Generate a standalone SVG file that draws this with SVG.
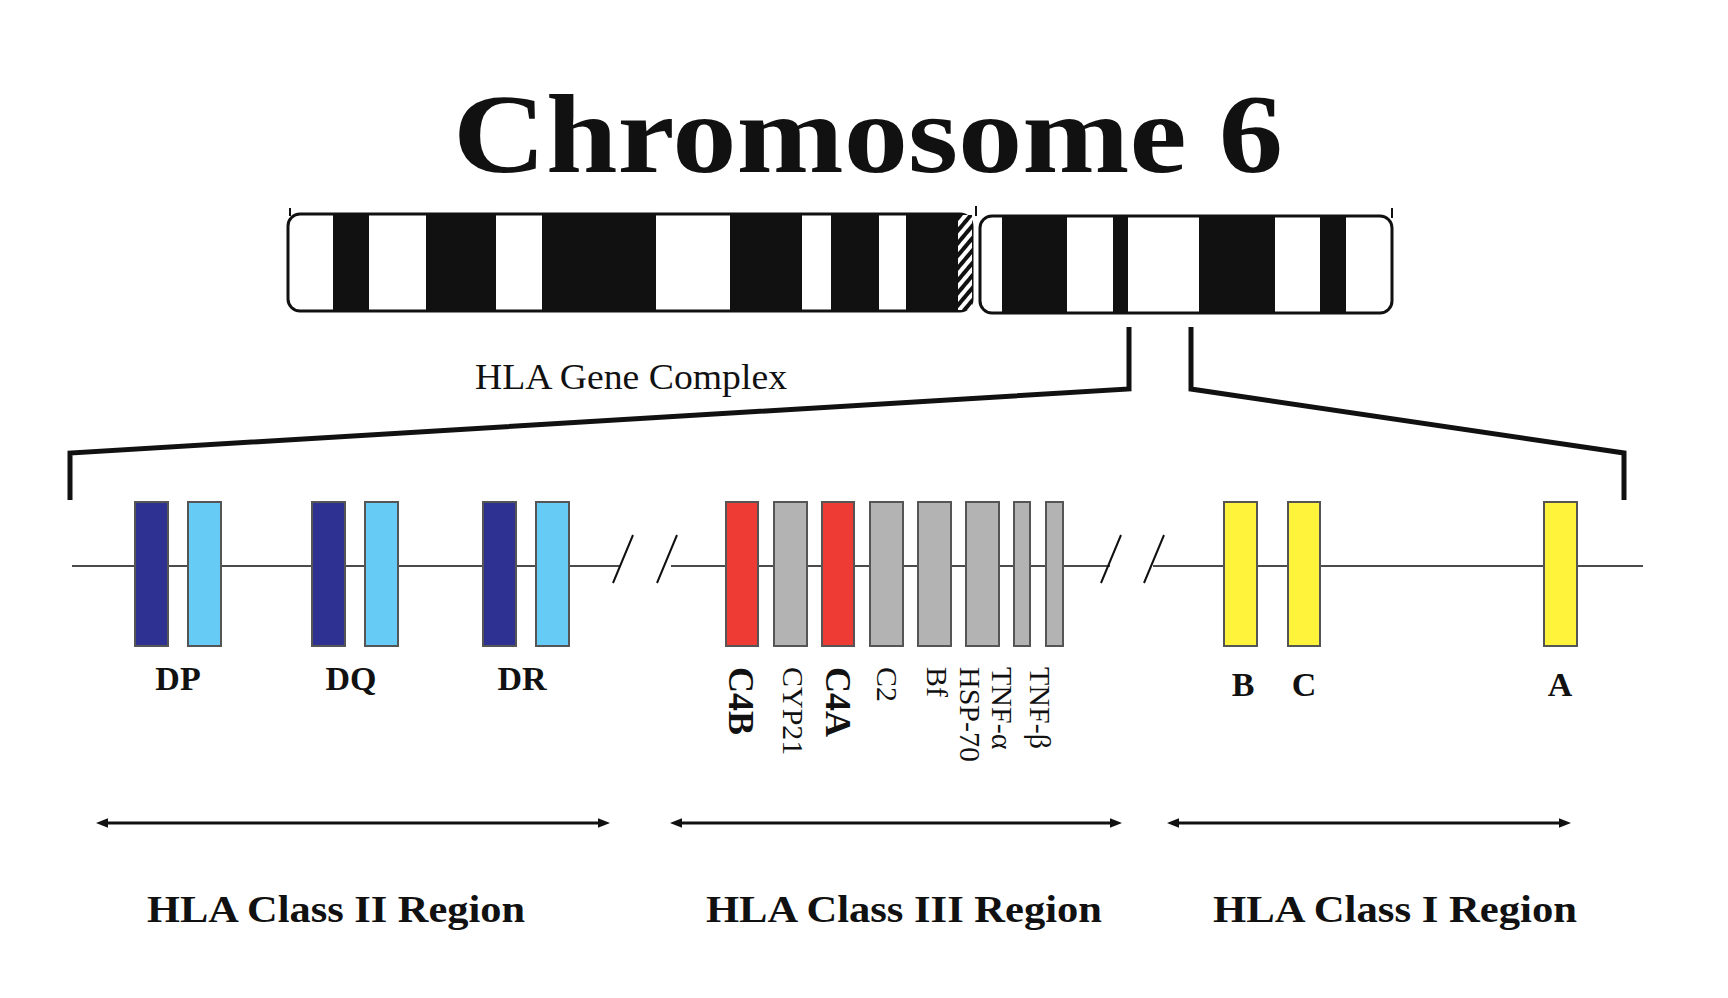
<svg xmlns="http://www.w3.org/2000/svg" width="1728" height="998" viewBox="0 0 1728 998">
<style>
.t{font-family:"Liberation Serif","Times New Roman",serif;fill:#111}
.b{font-weight:bold}
.g{stroke:#555;stroke-width:2}
.ln{stroke:#111;fill:none}
</style>
<defs>
<marker id="ah" viewBox="0 0 10 10" refX="5" refY="5" markerWidth="4" markerHeight="4" orient="auto-start-reverse"><path d="M0,1 L10,5 L0,9 Z" fill="#111"/></marker>
<pattern id="hatch" width="8" height="8" patternUnits="userSpaceOnUse" patternTransform="rotate(-50)"><rect width="8" height="8" fill="#fff"/><rect width="8" height="4" fill="#111"/></pattern>
</defs>
<rect width="1728" height="998" fill="#fff"/>
<text class="t b" x="868" y="172" font-size="112" text-anchor="middle" textLength="830" lengthAdjust="spacingAndGlyphs">Chromosome 6</text>
<g id="chromosome">
<rect x="288" y="214" width="684" height="97" rx="12" fill="#fff" stroke="#111" stroke-width="3"/>
<rect x="980" y="216" width="412" height="97" rx="12" fill="#fff" stroke="#111" stroke-width="3"/>
<g fill="#111">
<rect x="333" y="215" width="36" height="95"/><rect x="426" y="215" width="70" height="95"/>
<rect x="542" y="215" width="114" height="95"/><rect x="730" y="215" width="72" height="95"/>
<rect x="831" y="215" width="48" height="95"/><rect x="906" y="215" width="52" height="95"/>
<rect x="1002" y="217" width="65" height="95"/><rect x="1113" y="217" width="15" height="95"/>
<rect x="1199" y="217" width="76" height="95"/><rect x="1320" y="217" width="26" height="95"/>
</g>
<rect x="958" y="215" width="14" height="95" fill="url(#hatch)"/>
<path class="ln" stroke-width="2" d="M290,208V216 M976,206V216 M1392,208V218"/>
</g>
<text class="t" x="475" y="389" font-size="36" textLength="312" lengthAdjust="spacingAndGlyphs">HLA Gene Complex</text>
<g id="connectors">
<path class="ln" stroke-width="5" d="M1129,327V389L70,453V500 M1191,327V389L1624,453V500"/>
<path class="ln" stroke-width="1.5" d="M72,566H620 M671,566H1110 M1153,566H1643"/>
<path class="ln" stroke-width="2" d="M613,583L633,535 M657,583L677,535 M1101,583L1121,535 M1144,583L1164,535"/>
<path class="ln" stroke-width="3" marker-start="url(#ah)" marker-end="url(#ah)" d="M102,823H604"/>
<path class="ln" stroke-width="3" marker-start="url(#ah)" marker-end="url(#ah)" d="M676,823H1116"/>
<path class="ln" stroke-width="3" marker-start="url(#ah)" marker-end="url(#ah)" d="M1173,823H1565"/>
</g>
<g id="classII">
<rect class="g" x="135" y="502" width="33" height="144" fill="#2e3192"/><rect class="g" x="188" y="502" width="33" height="144" fill="#66ccf5"/>
<rect class="g" x="312" y="502" width="33" height="144" fill="#2e3192"/><rect class="g" x="365" y="502" width="33" height="144" fill="#66ccf5"/>
<rect class="g" x="483" y="502" width="33" height="144" fill="#2e3192"/><rect class="g" x="536" y="502" width="33" height="144" fill="#66ccf5"/>
<text class="t b" x="178" y="690" font-size="34" text-anchor="middle">DP</text>
<text class="t b" x="351" y="690" font-size="34" text-anchor="middle">DQ</text>
<text class="t b" x="522" y="690" font-size="34" text-anchor="middle">DR</text>
</g>
<g id="classIII">
<rect class="g" x="726" y="502" width="32" height="144" fill="#ee3b33"/>
<rect class="g" x="774" y="502" width="33" height="144" fill="#b3b3b3"/>
<rect class="g" x="822" y="502" width="32" height="144" fill="#ee3b33"/>
<rect class="g" x="870" y="502" width="33" height="144" fill="#b3b3b3"/>
<rect class="g" x="918" y="502" width="33" height="144" fill="#b3b3b3"/>
<rect class="g" x="966" y="502" width="33" height="144" fill="#b3b3b3"/>
<rect class="g" x="1014" y="502" width="16" height="144" fill="#b3b3b3"/>
<rect class="g" x="1046" y="502" width="17" height="144" fill="#b3b3b3"/>
<text class="t b" font-size="36" transform="translate(729,667) rotate(90)">C4B</text>
<text class="t" font-size="30" transform="translate(783,667) rotate(90)">CYP21</text>
<text class="t b" font-size="36" transform="translate(826,667) rotate(90)">C4A</text>
<text class="t" font-size="30" transform="translate(877,667) rotate(90)">C2</text>
<text class="t" font-size="30" transform="translate(927,667) rotate(90)">Bf</text>
<text class="t" font-size="30" transform="translate(960,667) rotate(90)">HSP-70</text>
<text class="t" font-size="30" transform="translate(992,667) rotate(90)">TNF-α</text>
<text class="t" font-size="30" transform="translate(1030,667) rotate(90)">TNF-β</text>
</g>
<g id="classI">
<rect class="g" x="1224" y="502" width="33" height="144" fill="#fff33b"/>
<rect class="g" x="1288" y="502" width="32" height="144" fill="#fff33b"/>
<rect class="g" x="1544" y="502" width="33" height="144" fill="#fff33b"/>
<text class="t b" x="1243" y="696" font-size="34" text-anchor="middle">B</text>
<text class="t b" x="1304" y="696" font-size="34" text-anchor="middle">C</text>
<text class="t b" x="1560" y="696" font-size="34" text-anchor="middle">A</text>
</g>
<g id="regions">
<text class="t b" x="336" y="922" font-size="38" text-anchor="middle" textLength="378" lengthAdjust="spacingAndGlyphs">HLA Class II Region</text>
<text class="t b" x="904" y="922" font-size="38" text-anchor="middle" textLength="396" lengthAdjust="spacingAndGlyphs">HLA Class III Region</text>
<text class="t b" x="1395" y="922" font-size="38" text-anchor="middle" textLength="364" lengthAdjust="spacingAndGlyphs">HLA Class I Region</text>
</g>
</svg>
